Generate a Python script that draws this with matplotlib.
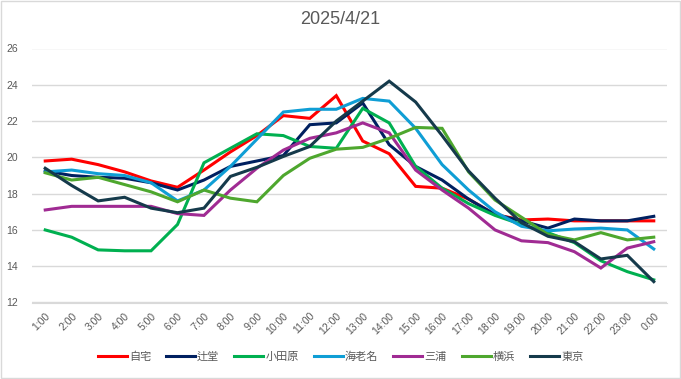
import matplotlib
matplotlib.use('Agg')
import matplotlib.pyplot as plt
from matplotlib.patches import Rectangle

hours = ['1:00', '2:00', '3:00', '4:00', '5:00', '6:00', '7:00', '8:00', '9:00', '10:00',
         '11:00', '12:00', '13:00', '14:00', '15:00', '16:00', '17:00', '18:00', '19:00',
         '20:00', '21:00', '22:00', '23:00', '0:00']

jitaku = [19.8, 19.9, 19.6, 19.2, 18.7, 18.35, 19.3, 20.3, 21.2, 22.3, 22.15, 23.4,
          20.9, 20.2, 18.4, 18.3, 17.7, 16.85, 16.55, 16.6, 16.5, 16.5, 16.5, 16.5]
tsujido = [19.25, 19.0, 18.9, 18.85, 18.6, 18.2, 18.75, 19.5, 19.8, 20.1, 21.8, 21.9,
           23.0, 20.7, 19.5, 18.75, 17.7, 16.85, 16.5, 16.1, 16.6, 16.5, 16.5, 16.75]
odawara = [16.0, 15.6, 14.9, 14.85, 14.85, 16.3, 19.7, 20.5, 21.3, 21.2, 20.6, 20.5,
           22.7, 21.9, 19.5, 18.3, 17.45, 16.8, 16.3, 15.85, 15.3, 14.3, 13.7, 13.25]
ebina = [19.2, 19.3, 19.1, 19.0, 18.6, 17.6, 18.2, 19.5, 21.0, 22.5, 22.65, 22.65,
         23.25, 23.1, 21.6, 19.6, 18.2, 17.0, 16.2, 15.95, 16.05, 16.1, 16.0, 14.95]
miura = [17.1, 17.3, 17.3, 17.3, 17.3, 16.9, 16.8, 18.2, 19.4, 20.4, 21.05, 21.35,
         21.9, 21.35, 19.3, 18.2, 17.2, 16.0, 15.4, 15.3, 14.8, 13.9, 15.0, 15.35]
yokohama = [19.15, 18.75, 18.9, 18.5, 18.1, 17.55, 18.2, 17.75, 17.55, 19.0, 19.95, 20.45,
            20.55, 21.05, 21.65, 21.6, 19.2, 17.65, 16.7, 15.75, 15.45, 15.85, 15.45, 15.6]
tokyo = [19.4, 18.45, 17.6, 17.8, 17.2, 16.95, 17.2, 18.95, 19.45, 20.05, 20.6, 22.0,
         23.1, 24.2, 23.05, 21.2, 19.25, 17.75, 16.4, 15.65, 15.35, 14.4, 14.6, 13.15]

series = [
    ('自宅', jitaku, '#FF0000'),
    ('辻堂', tsujido, '#002060'),
    ('小田原', odawara, '#00B050'),
    ('海老名', ebina, '#0F9ED5'),
    ('三浦', miura, '#A02B93'),
    ('横浜', yokohama, '#4EA72E'),
    ('東京', tokyo, '#153A4B'),
]

plt.rcParams['font.family'] = ['Liberation Sans', 'Noto Sans CJK JP', 'DejaVu Sans']

fig = plt.figure(figsize=(6.81, 3.79), dpi=100)
fig.patches.append(Rectangle((0.001, 0.002), 0.997, 0.995, transform=fig.transFigure,
                             fill=False, edgecolor='#D9D9D9', linewidth=1.0))
W, H = 681, 379
ax = fig.add_axes([32 / W, 1 - 302.5 / H, 635 / W, 254 / H])

x = list(range(len(hours)))
for name, vals, col in series:
    ax.plot(x, vals, color=col, linewidth=2.2, label=name, solid_joinstyle='miter')

ax.set_xlim(-0.5, len(hours) - 0.5)
ax.set_ylim(12, 26)
ax.set_yticks(range(12, 27, 2))
ax.yaxis.grid(True, color='#D9D9D9', linewidth=1.0)
ax.set_axisbelow(True)
for s in ['top', 'right', 'left']:
    ax.spines[s].set_visible(False)
ax.spines['bottom'].set_color('#D9D9D9')
ax.tick_params(axis='both', length=0, colors='#595959', labelsize=7.5)
ax.tick_params(axis='y', pad=10)
ax.set_xticks(x)
ax.set_xticklabels(hours, rotation=45, ha='right', rotation_mode='anchor')
ax.tick_params(axis='x', pad=6)

fig.text(0.5, 1 - 20 / H, '2025/4/21', ha='center', va='center', fontsize=13, color='#595959')

leg = fig.legend(loc='center', bbox_to_anchor=(0.5, 1 - 357 / H), ncol=7, frameon=False,
                 prop={'family': ['Noto Sans CJK JP', 'DejaVu Sans'], 'size': 8},
                 handlelength=2.6, handletextpad=0.2, columnspacing=1.35, labelcolor='#595959')

fig.savefig('out.png', dpi=100)
